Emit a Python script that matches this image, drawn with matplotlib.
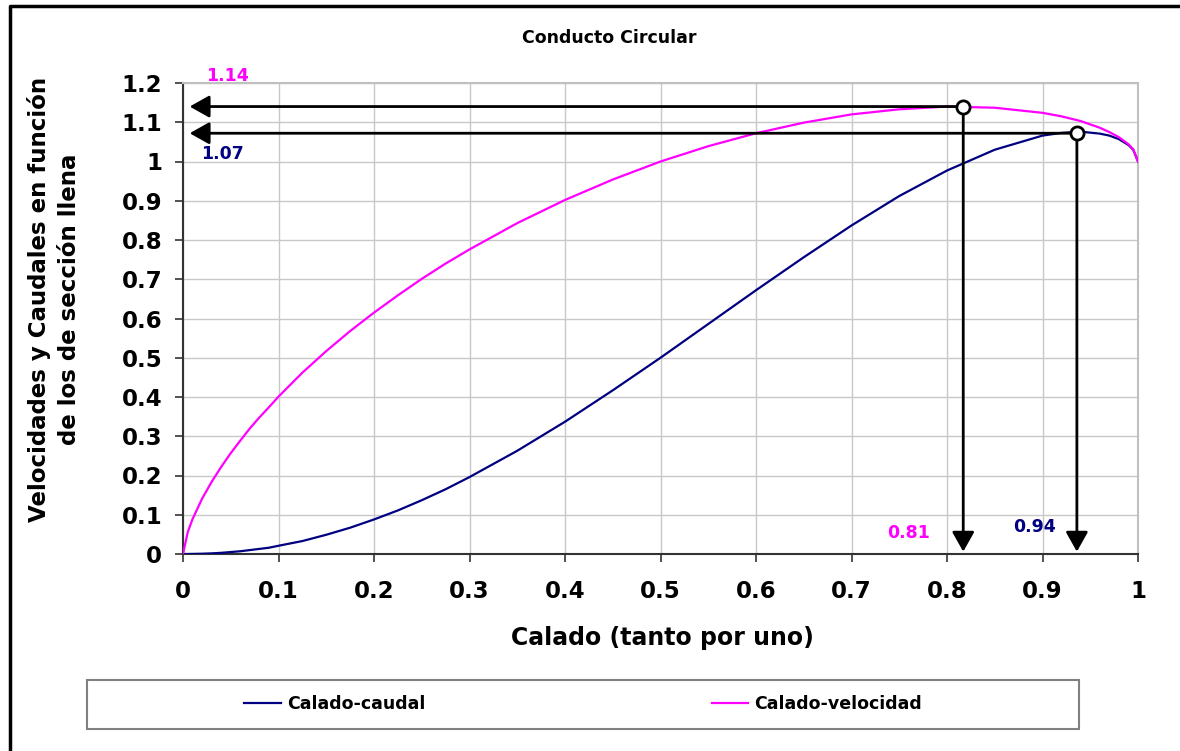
import matplotlib
matplotlib.use("Agg")
import matplotlib.pyplot as plt
from matplotlib.lines import Line2D
from matplotlib.patches import Rectangle

# calado (tanto por uno) and curves
calado = [0, 0.005, 0.01, 0.02, 0.03, 0.04, 0.05, 0.06, 0.07, 0.08, 0.09, 0.1,
          0.125, 0.15, 0.175, 0.2, 0.225, 0.25, 0.275, 0.3, 0.35, 0.4, 0.45,
          0.5, 0.55, 0.6, 0.65, 0.7, 0.75, 0.8, 0.85, 0.9, 0.92, 0.94, 0.96,
          0.97, 0.98, 0.99, 0.995, 1.0]
caudal = [0, 0.0, 0.0002, 0.0007, 0.0016, 0.003, 0.005, 0.007, 0.010, 0.013,
          0.016, 0.021, 0.033, 0.049, 0.067, 0.088, 0.111, 0.137, 0.165, 0.196,
          0.263, 0.337, 0.417, 0.500, 0.586, 0.672, 0.756, 0.837, 0.912, 0.977,
          1.030, 1.066, 1.073, 1.076, 1.071, 1.066, 1.057, 1.042, 1.030, 1.0]
velocidad = [0, 0.056, 0.089, 0.141, 0.184, 0.222, 0.257, 0.289, 0.320, 0.348,
             0.374, 0.401, 0.462, 0.517, 0.568, 0.615, 0.659, 0.701, 0.740,
             0.776, 0.843, 0.902, 0.954, 1.000, 1.039, 1.072, 1.099, 1.120,
             1.133, 1.140, 1.137, 1.124, 1.115, 1.103, 1.086, 1.075, 1.062,
             1.044, 1.031, 1.0]

# maximum points marked on the chart
vel_max = (0.817, 1.14)
cau_max = (0.936, 1.072)

xticks = [0, 0.1, 0.2, 0.3, 0.4, 0.5, 0.6, 0.7, 0.8, 0.9, 1]
yticks = [0, 0.1, 0.2, 0.3, 0.4, 0.5, 0.6, 0.7, 0.8, 0.9, 1, 1.1, 1.2]

MAG = "#ff00ff"
NAVY = "#000080"

plt.rcParams['font.family'] = ['DejaVu Sans']
plt.rcParams['font.weight'] = 'bold'

fig = plt.figure(figsize=(11.8, 7.51), dpi=100)
W, H = 1180., 751.
ax = fig.add_axes([183/W, 1-554/H, (1138-183)/W, (554-83)/H])

ax.plot(calado, caudal, color=NAVY, lw=1.6, label="Calado-caudal", zorder=3)
ax.plot(calado, velocidad, color=MAG, lw=1.6, label="Calado-velocidad", zorder=3)

ax.set_xlim(0, 1)
ax.set_ylim(0, 1.2)
ax.set_xticks(xticks)
ax.set_yticks(yticks)
ax.set_xticklabels(["%g" % v for v in xticks])
ax.set_yticklabels(["%g" % v for v in yticks])
ax.tick_params(axis='both', direction='out', length=6, width=1.2, color='#333333',
               labelsize=16.5)
ax.tick_params(axis='x', pad=13)
ax.tick_params(axis='y', pad=9)
for lab in ax.get_xticklabels() + ax.get_yticklabels():
    lab.set_fontweight('bold')
ax.grid(True, color='#c8c8c8', lw=1)
ax.set_axisbelow(True)
for s in ['left', 'bottom']:
    ax.spines[s].set_color('#333333')
    ax.spines[s].set_linewidth(1.5)
for s in ['top', 'right']:
    ax.spines[s].set_color('#c0c0c0')
    ax.spines[s].set_linewidth(1.5)

# arrows from the maxima to the axes
aprops = dict(arrowstyle='-|>,head_length=0.8,head_width=0.45', color='black',
              lw=2, shrinkA=0, shrinkB=0, mutation_scale=15)
for (mx, my) in [vel_max, cau_max]:
    ax.annotate("", xy=(0.007, my), xytext=(mx, my), arrowprops=aprops, zorder=4)
    ax.annotate("", xy=(mx, 0.006), xytext=(mx, my), arrowprops=aprops, zorder=4)
    ax.plot(mx, my, 'o', ms=9.5, mfc='white', mec='black', mew=2, zorder=6)

# value labels
ax.text(0.047, 1.219, "1.14", color=MAG, fontsize=12.5, fontweight='bold',
        ha='center', va='center', clip_on=False)
ax.text(0.041, 1.02, "1.07", color=NAVY, fontsize=12.5, fontweight='bold',
        ha='center', va='center')
ax.text(0.760, 0.053, "0.81", color=MAG, fontsize=12.5, fontweight='bold',
        ha='center', va='center')
ax.text(0.892, 0.069, "0.94", color=NAVY, fontsize=12.5, fontweight='bold',
        ha='center', va='center')

fig.text(609/W, 1-38/H, "Conducto Circular", fontsize=12.5, fontweight='bold',
         ha='center', va='center')
fig.text(662/W, 1-638/H, "Calado (tanto por uno)", fontsize=17, fontweight='bold',
         ha='center', va='center')
fig.text(54/W, 1-299/H, "Velocidades y Caudales en función\nde los de sección llena",
         fontsize=16.5, fontweight='bold', rotation=90, ha='center', va='center',
         multialignment='center', linespacing=1.35)

# legend box
fig.patches.append(Rectangle((87/W, 1-729/H), (1079-87)/W, (729-680)/H,
                             transform=fig.transFigure, fill=False,
                             edgecolor='#808080', lw=1.5))
fig.legend(loc='center', bbox_to_anchor=(583/W, 1-704/H), ncol=2, frameon=False,
           prop=dict(size=12.5, weight='bold'), handlelength=2.1,
           handletextpad=0.35, columnspacing=16.5)

# outer frame (top and left edges only visible)
fig.add_artist(Line2D([10/W, 10/W, 1.0], [0, 1-6/H, 1-6/H], color='black', lw=2.5,
                      transform=fig.transFigure))

fig.savefig("out.png", dpi=100)
